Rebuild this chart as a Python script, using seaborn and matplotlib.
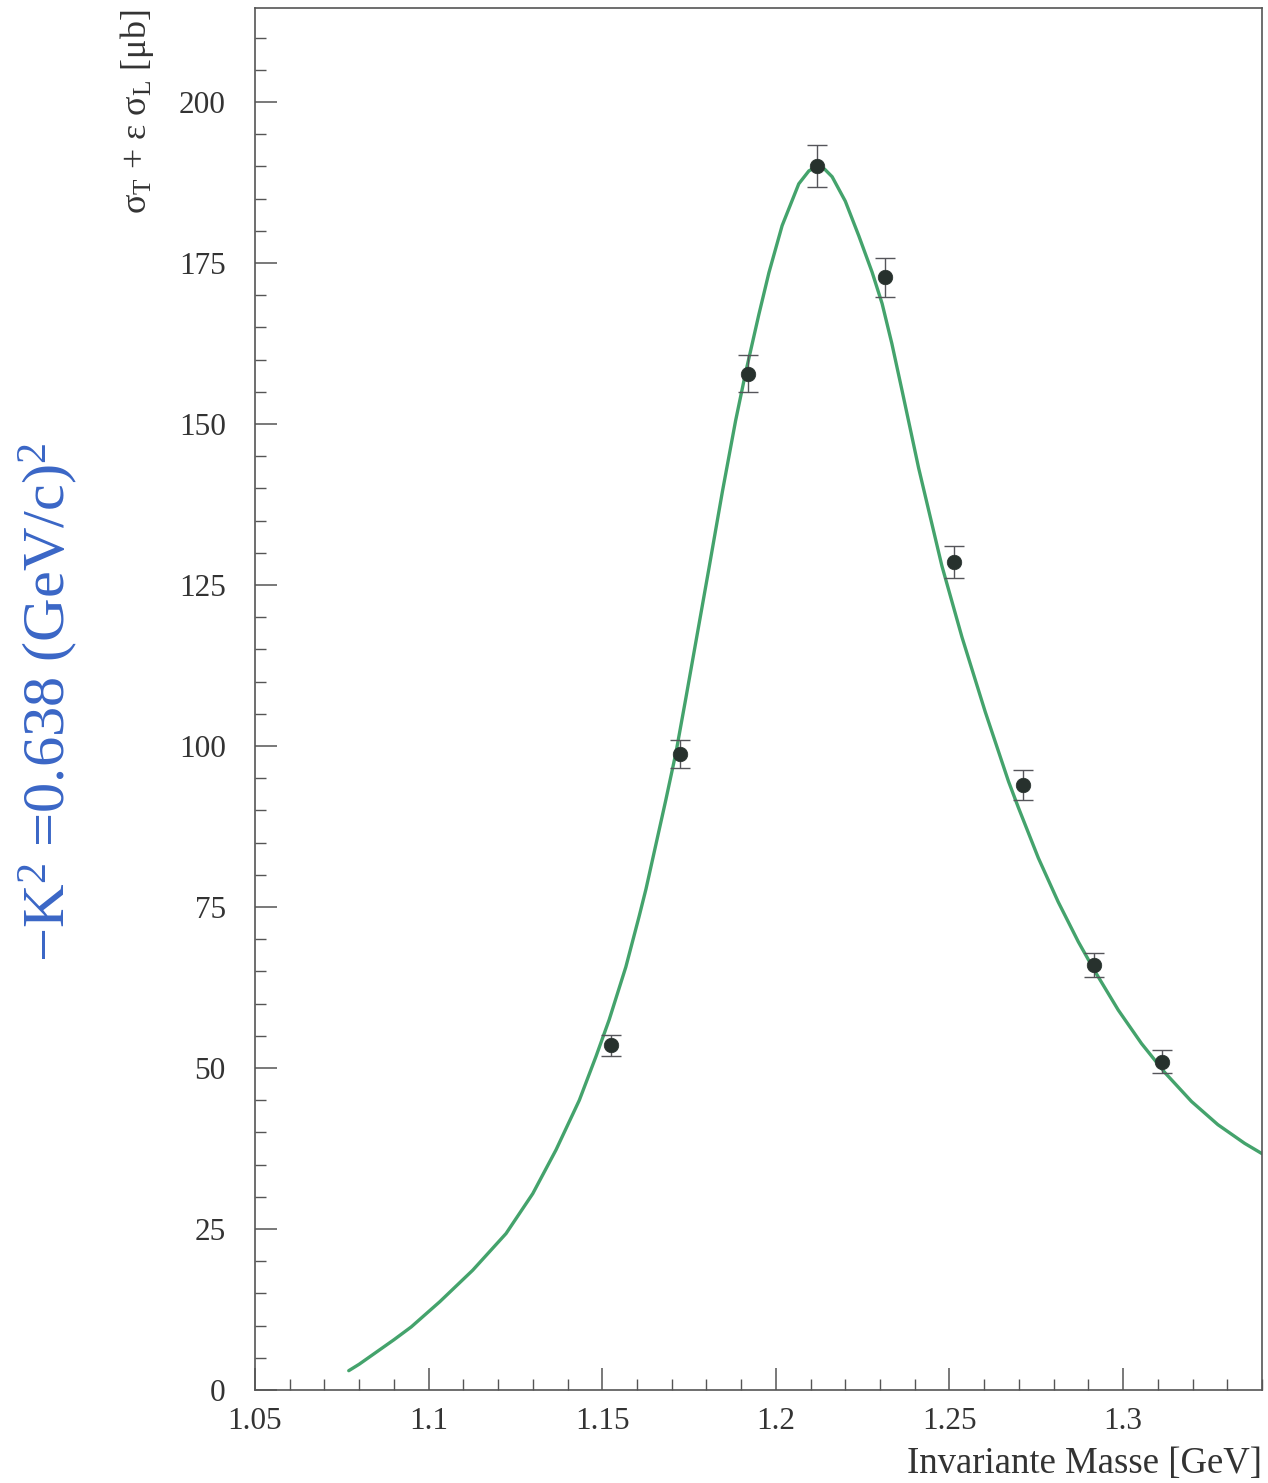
import matplotlib
matplotlib.use("Agg")
import matplotlib.pyplot as plt
from matplotlib.ticker import MultipleLocator
import pandas as pd
import seaborn as sns

# Measured cross section sigma_T + eps*sigma_L at fixed -K^2
mass = [1.1525, 1.1725, 1.1920, 1.2118, 1.2315, 1.2512, 1.2712, 1.2915, 1.3112]
sigma = [53.5, 98.8, 157.8, 190.1, 172.8, 128.6, 93.9, 66.0, 51.0]
sigma_err = [1.7, 2.2, 2.9, 3.3, 3.0, 2.5, 2.3, 1.8, 1.8]

# Fitted resonance curve
fit_mass = [1.0770, 1.0800, 1.0850, 1.0900, 1.0950, 1.1032, 1.1127, 1.1223,
            1.1300, 1.1367, 1.1434, 1.1482, 1.1520, 1.1568, 1.1606, 1.1626,
            1.1683, 1.1712, 1.1741, 1.1807, 1.1846, 1.1884, 1.1913, 1.1951,
            1.1980, 1.2018, 1.2066, 1.2095, 1.2118, 1.2140, 1.2162, 1.2200,
            1.2239, 1.2277, 1.2306, 1.2334, 1.2363, 1.2392, 1.2411, 1.2478,
            1.2536, 1.2603, 1.2670, 1.2698, 1.2756, 1.2813, 1.2871, 1.2919,
            1.2986, 1.3053, 1.3120, 1.3197, 1.3273, 1.3350, 1.3400]
fit_sigma = [3.0, 4.0, 5.9, 7.8, 9.8, 13.7, 18.6, 24.3,
             30.5, 37.3, 45.0, 51.8, 57.5, 65.7, 73.5, 77.8,
             91.6, 98.9, 107.5, 127.5, 139.5, 150.5, 158.0, 167.0,
             173.5, 180.8, 187.3, 189.3, 190.0, 189.6, 188.4, 184.6,
             179.2, 173.6, 168.7, 162.5, 155.3, 148.0, 143.2, 128.0,
             116.9, 105.3, 94.5, 90.5, 82.6, 75.8, 69.6, 65.0,
             59.0, 53.8, 49.3, 44.8, 41.2, 38.3, 36.7]

y_ticks = [0, 25, 50, 75, 100, 125, 150, 175, 200]
x_ticks = [1.05, 1.1, 1.15, 1.2, 1.25, 1.3]
x_tick_labels = ["1.05", "1.1", "1.15", "1.2", "1.25", "1.3"]

points = pd.DataFrame({"mass": mass, "sigma": sigma, "err": sigma_err})
fit = pd.DataFrame({"mass": fit_mass, "sigma": fit_sigma})

sns.set_style("ticks")
plt.rcParams["font.family"] = ["Liberation Serif", "DejaVu Serif"]
plt.rcParams["mathtext.fontset"] = "custom"
plt.rcParams["mathtext.rm"] = "Liberation Serif"
plt.rcParams["mathtext.it"] = "Liberation Serif:italic"

fig = plt.figure(figsize=(12.68, 14.83), dpi=100)
ax = fig.add_axes([255 / 1268, 1 - 1390 / 1483, 1007 / 1268, 1382 / 1483])

sns.lineplot(data=fit, x="mass", y="sigma", ax=ax, color="#44a36c",
             linewidth=2.4, sort=True, legend=False)
ax.lines[-1].set_solid_joinstyle("round")
ax.errorbar(points["mass"], points["sigma"], yerr=points["err"], fmt="none",
            ecolor="#55555a", elinewidth=1.0, capsize=7, capthick=1.0, zorder=3)
sns.scatterplot(data=points, x="mass", y="sigma", ax=ax, color="#27312d",
                s=110, edgecolor="#27312d", linewidth=0.5, zorder=4, legend=False)

ax.set_xlim(1.05, 1.34)
ax.set_ylim(0, 214.6)

ax.set_xticks(x_ticks)
ax.set_xticklabels(x_tick_labels)
ax.set_yticks(y_ticks)
ax.xaxis.set_minor_locator(MultipleLocator(0.01))
ax.yaxis.set_minor_locator(MultipleLocator(5))

ax.tick_params(axis="both", which="both", direction="in", colors="#555555",
               labelcolor="#333333", labelsize=22.5, top=False, right=False)
ax.tick_params(axis="both", which="major", length=16, width=1.1)
ax.tick_params(axis="both", which="minor", length=8, width=1.0)
ax.tick_params(axis="y", which="major", pad=21)
ax.tick_params(axis="x", which="major", pad=12)

for side in ["left", "right", "top", "bottom"]:
    ax.spines[side].set_visible(True)
    ax.spines[side].set_color("#555555")
    ax.spines[side].set_linewidth(1.2)

ax.set_xlabel("Invariante Masse [GeV]", fontsize=26.5, color="#333333", loc="right")
ax.xaxis.set_label_coords(1.0, -0.041)
ax.xaxis.label.set_va("top")

ax.set_ylabel(r"σ$_\mathrm{T}$ + ε σ$_\mathrm{L}$ [μb]", fontsize=26,
              color="#333333", loc="top")
ax.yaxis.set_label_coords(-0.098, 0.999)

fig.text(48 / 1268, 1 - 702 / 1483, r"−K$^2$ =0.638 (GeV/c)$^2$",
         rotation=90, ha="center", va="center", fontsize=43.5, color="#3a66c6")

fig.savefig("out.png", dpi=100, facecolor="white")
